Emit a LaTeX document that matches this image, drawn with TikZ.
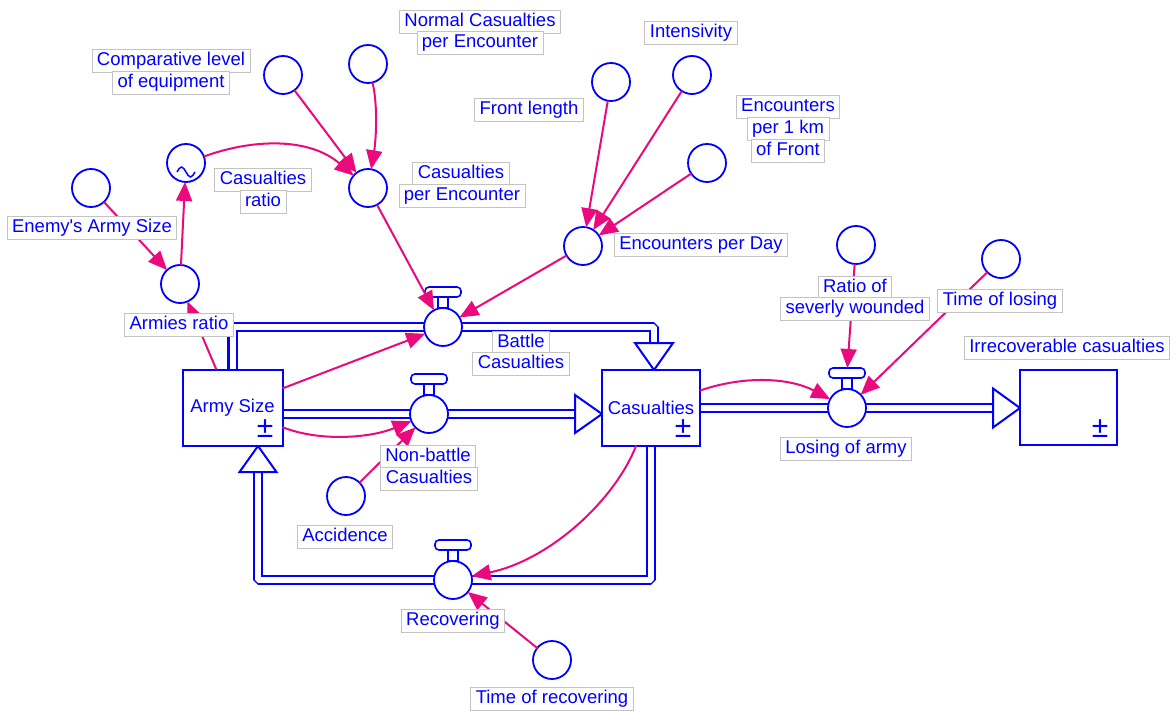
\documentclass[tikz,border=0pt]{standalone}
\usepackage{fontspec}
\setmainfont{Liberation Sans}
\usetikzlibrary{arrows.meta,positioning,calc}
\definecolor{vblue}{RGB}{0,0,255}
\definecolor{vpink}{RGB}{235,10,125}
\definecolor{vgray}{RGB}{195,195,195}
\pgfdeclarelayer{bg}
\pgfsetlayers{bg,main}
\begin{document}
\begin{tikzpicture}[x=1pt,y=-1pt, font=\fontsize{18.5}{21}\selectfont,
  aux/.style={circle, draw=vblue, line width=1.8pt, fill=white, minimum size=38pt, inner sep=0pt, outer sep=0pt},
  stem/.style={draw=vblue, line width=1.6pt, fill=white, minimum width=10pt, minimum height=11pt, inner sep=0pt, outer sep=0pt},
  handle/.style={draw=vblue, line width=1.6pt, fill=white, minimum width=36pt, minimum height=10pt, inner sep=0pt, outer sep=0pt, rounded corners=4pt},
  stock/.style={draw=vblue, line width=2pt, fill=white, text=vblue, inner sep=0pt, outer sep=0pt},
  lbl/.style={draw=vgray, line width=0.8pt, fill=white, text=vblue, inner xsep=5pt, inner ysep=2.5pt, text height=13.5pt, text depth=4pt},
  pipe/.style={draw=vblue, double=white, double distance=6pt, line width=2.3pt, line join=bevel},
  ptip/.style={draw=vblue, line width=2pt, fill=white, line join=miter},
  link/.style={draw=vpink, line width=2pt, -{Triangle[length=19pt,width=16pt]}},
  pm/.style={text=vblue, font=\fontsize{30}{30}\selectfont, inner sep=0pt}
]
\useasboundingbox (0,0) rectangle (1174,711);

% stocks
\node[stock, minimum width=100pt, minimum height=76pt] (as) at (232.5,407.5) {Army Size};
\node[stock, minimum width=98pt, minimum height=76pt] (cs) at (651,407.5) {Casualties};
\node[stock, minimum width=97pt, minimum height=75pt] (ic) at (1068.5,407.5) {};
\node[pm] (asp) at (265,429) {±};
\node[pm] (csp) at (683,429) {±};
\node[pm] (icp) at (1100,429) {±};

% valve positions
\coordinate (bvc) at (443,327);
\coordinate (nbc) at (429,414);
\coordinate (lvc) at (847,408);
\coordinate (rvc) at (453,580);
% pipe tips (base centres)
\coordinate (bt) at (654,343);
\coordinate (nbt) at (575,414);
\coordinate (lt) at (993,408);
\coordinate (rt) at (258,472);
\coordinate (bcorner) at (654,327);
\coordinate (rc1) at (651,580);
\coordinate (rc2) at (258,580);

\begin{pgfonlayer}{bg}
\fill[white] (0,0) rectangle (1174,711);
\draw[pipe] (as.north) |- (bcorner) -- (bt);
\draw[pipe] (as.east |- nbc) -- (nbt);
\draw[pipe] (cs.east |- lvc) -- (lt);
\draw[pipe] (cs.south) -- (rc1) -- (rc2) -- (rt);
\draw[ptip] ($(bt)+(-19,0)$) -- ($(bt)+(19,0)$) -- ($(bt)+(0,27)$) -- cycle;
\draw[ptip] ($(nbt)+(0,-19)$) -- ($(nbt)+(0,19)$) -- ($(nbt)+(27,0)$) -- cycle;
\draw[ptip] ($(lt)+(0,-19.5)$) -- ($(lt)+(0,19.5)$) -- ($(lt)+(27,0)$) -- cycle;
\draw[ptip] ($(rt)+(-18.5,0)$) -- ($(rt)+(18.5,0)$) -- ($(rt)+(0,-26)$) -- cycle;
\end{pgfonlayer}

% valves
\node[aux] (bv) at (bvc) {};
\node[stem, above=0pt of bv] (bvs) {};
\node[handle, above=0pt of bvs] (bvh) {};
\node[aux] (nbv) at (nbc) {};
\node[stem, above=0pt of nbv] (nbvs) {};
\node[handle, above=0pt of nbvs] (nbvh) {};
\node[aux] (lv) at (lvc) {};
\node[stem, above=0pt of lv] (lvs) {};
\node[handle, above=0pt of lvs] (lvh) {};
\node[aux] (rv) at (rvc) {};
\node[stem, above=0pt of rv] (rvs) {};
\node[handle, above=0pt of rvs] (rvh) {};

% auxiliaries
\node[aux] (ens) at (91,188) {};
\node[aux] (ar) at (180,284) {};
\node[aux] (cr) at (186,163) {};
\draw[vblue, line width=1.5pt] ([xshift=-9pt,yshift=-9pt]cr.center) sin ++(4.5,-5) cos ++(4.5,5) sin ++(4.5,5) cos ++(4.5,-5);
\node[aux] (cle) at (283,75) {};
\node[aux] (nce) at (368,64) {};
\node[aux] (cpe) at (368,188) {};
\node[aux] (fl) at (611,82) {};
\node[aux] (int) at (692,75) {};
\node[aux] (epk) at (707,163) {};
\node[aux] (epd) at (583,246) {};
\node[aux] (rsw) at (856,245) {};
\node[aux] (tol) at (1001,259) {};
\node[aux] (acc) at (346,496) {};
\node[aux] (tor) at (552,660) {};

% links
\draw[link] (ens) -- (ar);
\draw[link] (as) -- (ar);
\draw[link] (ar) -- (cr);
\draw[link] (cr) .. controls (255,138) and (310,138) .. (cpe);
\draw[link] (cle) -- (cpe);
\draw[link] (nce) .. controls (378,105) and (376,140) .. (cpe);
\draw[link] (cpe) -- (bv);
\draw[link] (fl) -- (epd);
\draw[link] (int) -- (epd);
\draw[link] (epk) -- (epd);
\draw[link] (epd) -- (bv);
\draw[link] (as) -- (bv);
\draw[link] (as) .. controls (320,442) and (370,438) .. (nbv);
\draw[link] (acc) -- (nbv);
\draw[link] (cs) .. controls (745,375) and (790,378) .. (lv);
\draw[link] (rsw) -- (lvh);
\draw[link] (tol) -- (lv);
\draw[link] (cs) .. controls (615,500) and (550,560) .. (rv);
\draw[link] (tor) -- (rv);

% labels
\node[lbl] (l1a) at (171,61) {Comparative level};
\node[lbl] (l1b) at (171,83) {of equipment};
\node[lbl] (l2a) at (480,22) {Normal Casualties};
\node[lbl] (l2b) at (480,43) {per Encounter};
\node[lbl] (l3) at (691,33) {Intensivity};
\node[lbl] (l4) at (529,110) {Front length};
\node[lbl] (l5a) at (788,107) {Encounters};
\node[lbl] (l5b) at (788,129) {per 1 km};
\node[lbl] (l5c) at (788,151) {of Front};
\node[lbl] (l6a) at (263,180) {Casualties};
\node[lbl] (l6b) at (263,202) {ratio};
\node[lbl] (l7a) at (461,174) {Casualties};
\node[lbl] (l7b) at (462,196) {per Encounter};
\node[lbl] (l8) at (92,228) {Enemy\textquotesingle s Army Size};
\node[lbl] (l9) at (701,245) {Encounters per Day};
\node[lbl] (l10a) at (855,288) {Ratio of};
\node[lbl] (l10b) at (855,309) {severly wounded};
\node[lbl] (l11) at (1000,301) {Time of losing};
\node[lbl] (l12) at (179,325) {Armies ratio};
\node[lbl] (l13a) at (521,343) {Battle};
\node[lbl] (l13b) at (521,364) {Casualties};
\node[lbl] (l14) at (1067,348) {Irrecoverable casualties};
\node[lbl] (l15) at (846,449) {Losing of army};
\node[lbl] (l16a) at (428,457) {Non-battle};
\node[lbl] (l16b) at (429,479) {Casualties};
\node[lbl] (l17) at (345,537) {Accidence};
\node[lbl] (l18) at (453,621) {Recovering};
\node[lbl] (l19) at (552,699) {Time of recovering};
\end{tikzpicture}
\end{document}
